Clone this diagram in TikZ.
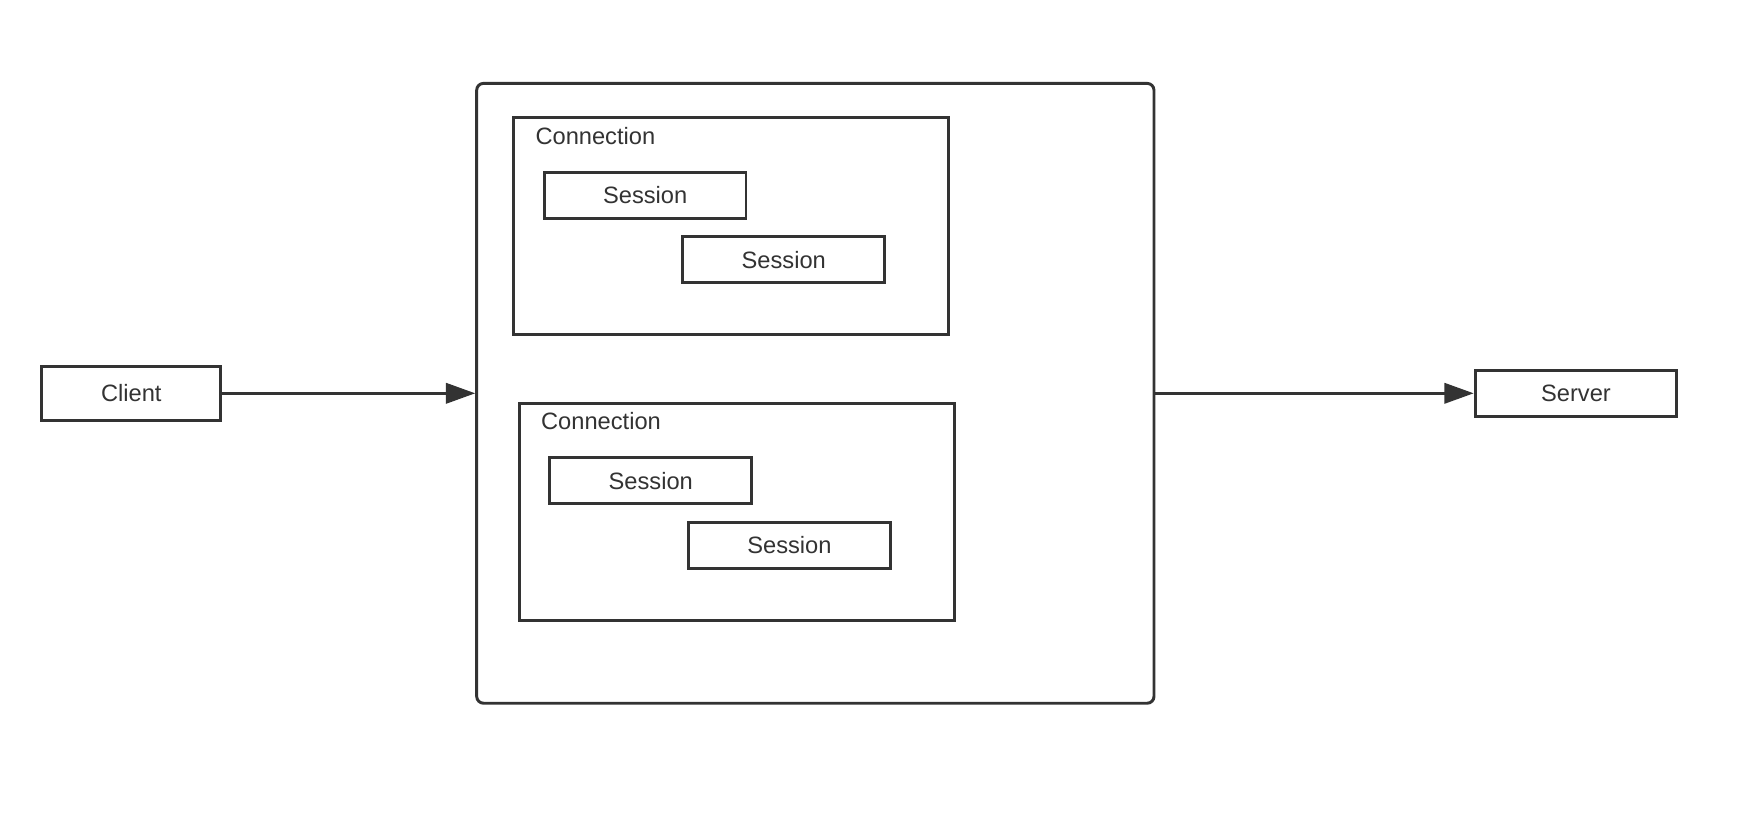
\documentclass[tikz,border=0pt]{standalone}
\usepackage{fontspec}
\setmainfont{Liberation Sans}
\usetikzlibrary{arrows.meta}
\definecolor{ink}{HTML}{333333}
\tikzset{
  box/.style={draw=ink, line width=2.6pt, text=ink, inner sep=0pt, font=\fontsize{21}{24}\selectfont},
  lbl/.style={text=ink, inner sep=0pt, anchor=west, font=\fontsize{21}{24}\selectfont},
  arr/.style={draw=ink, line width=2.6pt, -{Triangle[length=26pt,width=18pt]}}
}
\begin{document}
\begin{tikzpicture}[x=1pt,y=-1pt]
\useasboundingbox (0,0) rectangle (1560,724);
\fill[white] (0,0) rectangle (1560,724);
\node[box, minimum width=159pt, minimum height=48pt] (client) at (116.5,349) {Client};
\node[box, minimum width=179pt, minimum height=41pt] (server) at (1398.5,349) {Server};
\node[box, rounded corners=6pt, minimum width=601pt, minimum height=550pt] (big) at (723.5,349) {};
\node[box, minimum width=386pt, minimum height=193pt] (conn1) at (649,200.5) {};
\node[lbl] (c1lbl) at (475,121) {Connection};
\node[box, minimum width=179pt, minimum height=41pt] (s1a) at (572.5,173.5) {Session};
\node[box, minimum width=179pt, minimum height=41pt] (s1b) at (695.5,230.5) {Session};
\node[box, minimum width=386pt, minimum height=193pt] (conn2) at (654,454.5) {};
\node[lbl] (c2lbl) at (480,374) {Connection};
\node[box, minimum width=179pt, minimum height=41pt] (s2a) at (577.5,426.5) {Session};
\node[box, minimum width=179pt, minimum height=41pt] (s2b) at (700.5,484) {Session};
\draw[arr] (client.east) -- (big.west);
\draw[arr] (big.east) -- (server.west);
\end{tikzpicture}
\end{document}
